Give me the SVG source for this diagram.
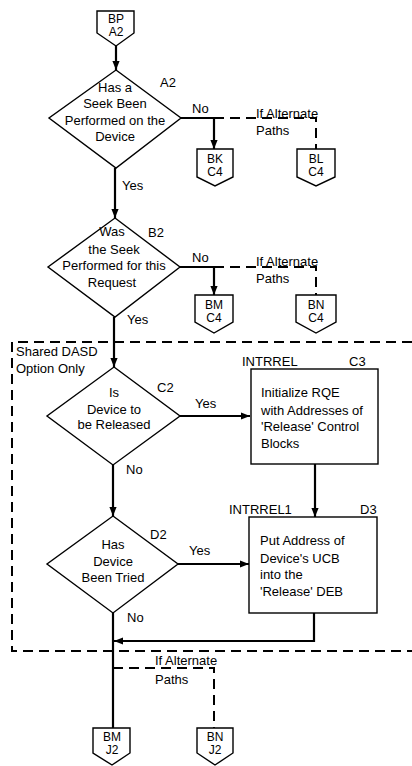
<svg xmlns="http://www.w3.org/2000/svg" width="412" height="766" viewBox="0 0 412 766">
<defs>
<marker id="ah" viewBox="0 0 10 10" refX="10" refY="5" markerWidth="9" markerHeight="9" markerUnits="userSpaceOnUse" orient="auto"><path d="M0,1 L10,5 L0,9 z" fill="#000"/></marker>
</defs>
<style>
text{font-family:"Liberation Sans",Arial,sans-serif;font-size:13px;fill:#000}
.c{text-anchor:middle}
.k{font-size:12px}
.s{fill:#fff;stroke:#000;stroke-width:1.4}
.l{fill:none;stroke:#000;stroke-width:2.2}
.d{fill:none;stroke:#000;stroke-width:2;stroke-dasharray:10,6}
.a{marker-end:url(#ah)}
</style>
<rect width="412" height="766" fill="#fff"/>
<g id="connectors">
<line class="l a" x1="116" y1="46" x2="116" y2="70"/>
<polyline class="l a" points="181,118 214,118 214,149"/>
<polyline class="d" points="214,118 316,118 316,149"/>
<line class="l a" x1="115" y1="168" x2="115" y2="218"/>
<polyline class="l a" points="180,267 214,267 214,295"/>
<polyline class="d" points="214,267 316,267 316,295"/>
<line class="l a" x1="114" y1="317" x2="114" y2="367"/>
<line class="l a" x1="180" y1="416" x2="250" y2="416"/>
<line class="l a" x1="113" y1="465" x2="113" y2="516"/>
<line class="l a" x1="315" y1="464" x2="315" y2="517"/>
<line class="l a" x1="178" y1="564" x2="249" y2="564"/>
<line class="l" x1="113" y1="613" x2="113" y2="728"/>
<polyline class="l a" points="314,613 314,641 114,641"/>
<polyline class="d" points="113,668 214,668 214,728"/>
<text x="192" y="113">No</text>
<text x="256" y="118">If Alternate</text>
<text x="256" y="135">Paths</text>
<text x="122" y="190">Yes</text>
<text x="192" y="262">No</text>
<text x="256" y="266">If Alternate</text>
<text x="256" y="283">Paths</text>
<text x="127" y="324">Yes</text>
<text x="195" y="408">Yes</text>
<text x="126" y="474">No</text>
<text x="189" y="555">Yes</text>
<text x="127" y="622">No</text>
<text x="155" y="665">If Alternate</text>
<text x="155" y="684">Paths</text>
</g>
<g id="dasd">
<polyline class="d" points="412,342 12,342 12,651 412,651"/>
<text x="16" y="356">Shared DASD</text>
<text x="16" y="373">Option Only</text>
</g>
<g id="BP"><polygon class="s" points="97,11 134,11 134,33 116,46 97,33"/><text class="c k" x="116" y="23">BP</text><text class="c k" x="116" y="36">A2</text></g>
<g id="A2">
<polygon class="s" points="116,70 181,118 116,168 49,118"/>
<text x="160" y="87">A2</text>
<text class="c" x="115" y="92">Has a</text>
<text class="c" x="115" y="108">Seek Been</text>
<text class="c" x="115" y="125">Performed on the</text>
<text class="c" x="115" y="141">Device</text>
</g>
<g id="BK"><polygon class="s" points="197,149 233,149 233,177 215,186 197,177"/><text class="c k" x="215" y="163">BK</text><text class="c k" x="215" y="176">C4</text></g>
<g id="BL"><polygon class="s" points="297,149 335,149 335,177 316,186 297,177"/><text class="c k" x="316" y="163">BL</text><text class="c k" x="316" y="176">C4</text></g>
<g id="B2">
<polygon class="s" points="115,218 180,267 115,317 48,267"/>
<text x="148" y="237">B2</text>
<text class="c" x="112" y="236">Was</text>
<text class="c" x="114" y="254">the Seek</text>
<text class="c" x="114" y="270">Performed for this</text>
<text class="c" x="112" y="287">Request</text>
</g>
<g id="BM1"><polygon class="s" points="195,295 233,295 233,322 214,333 195,322"/><text class="c k" x="214" y="309">BM</text><text class="c k" x="214" y="322">C4</text></g>
<g id="BN1"><polygon class="s" points="296,295 336,295 336,322 316,333 296,322"/><text class="c k" x="316" y="309">BN</text><text class="c k" x="316" y="322">C4</text></g>
<g id="C2">
<polygon class="s" points="114,367 180,416 113,465 47,416"/>
<text x="157" y="392">C2</text>
<text class="c" x="114" y="397">Is</text>
<text class="c" x="114" y="414">Device to</text>
<text class="c" x="114" y="429">be Released</text>
</g>
<g id="C3">
<rect class="s" x="251" y="369" width="127" height="95"/>
<text x="242" y="366">INTRREL</text>
<text x="349" y="366">C3</text>
<text x="261" y="397">Initialize RQE</text>
<text x="261" y="415">with Addresses of</text>
<text x="261" y="431">'Release' Control</text>
<text x="261" y="448">Blocks</text>
</g>
<g id="D2">
<polygon class="s" points="113,516 178,564 113,613 47,564"/>
<text x="150" y="539">D2</text>
<text class="c" x="113" y="549">Has</text>
<text class="c" x="113" y="566">Device</text>
<text class="c" x="113" y="582">Been Tried</text>
</g>
<g id="D3">
<rect class="s" x="249" y="517" width="128" height="96"/>
<text x="229" y="514">INTRREL1</text>
<text x="360" y="514">D3</text>
<text x="260" y="545">Put Address of</text>
<text x="260" y="563">Device's UCB</text>
<text x="260" y="579">into the</text>
<text x="260" y="596">'Release' DEB</text>
</g>
<g id="BM2"><polygon class="s" points="93,728 130,728 130,753 112,765 93,753"/><text class="c k" x="112" y="741">BM</text><text class="c k" x="112" y="754">J2</text></g>
<g id="BN2"><polygon class="s" points="197,728 233,728 233,753 215,765 197,753"/><text class="c k" x="215" y="741">BN</text><text class="c k" x="215" y="754">J2</text></g>
</svg>
